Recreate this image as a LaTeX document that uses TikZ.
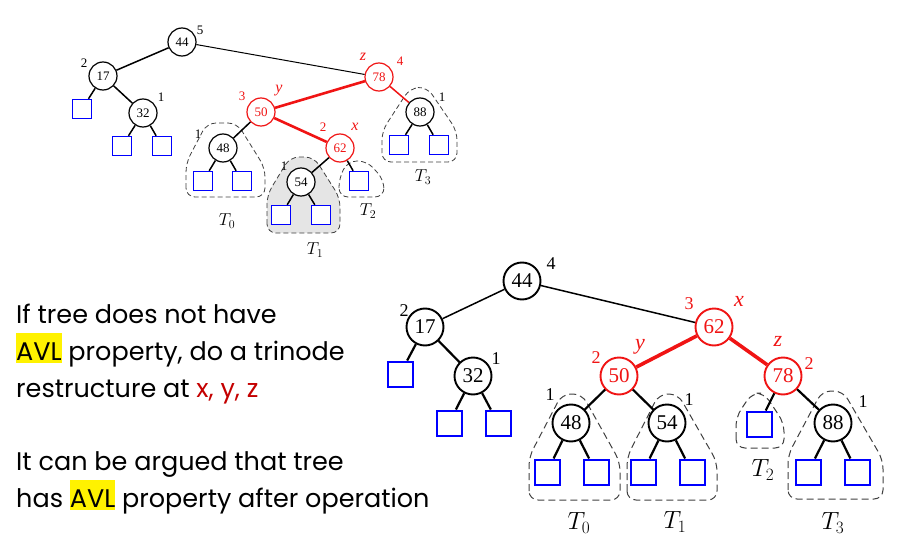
\documentclass[tikz,border=0pt]{standalone}
\usepackage{fontspec}
\setmainfont{Liberation Serif}
\newfontfamily\slidefont{Poppins}
\definecolor{treered}{RGB}{240,20,20}
\definecolor{textred}{RGB}{196,0,0}
\newcommand\hl[1]{{\setlength\fboxsep{0pt}\colorbox{yellow}{\rule[-3pt]{0pt}{30pt}#1}}}

\begin{document}
\begin{tikzpicture}[x=1pt, y=-1pt,
    var/.style={draw, circle, fill=white, minimum size=28, inner sep=0pt, line width=1.2,
      font=\fontsize{13}{13}\selectfont},
    bigvar/.style={var, minimum size=37, line width=1.9, font=\fontsize{21}{21}\selectfont},
    hot/.style={draw=treered, text=treered},
    leaf/.style={draw=blue, fill=white, minimum size=19, inner sep=0pt, line width=1.4},
    bigleaf/.style={leaf, minimum size=25, line width=2},
    edge/.style={line width=1.5},
    thin/.style={line width=1},
    bigedge/.style={line width=2.2},
    redge/.style={treered, line width=2.6},
    bigredge/.style={treered, line width=3.6},
    ht/.style={inner sep=0pt, font=\fontsize{13}{13}\selectfont},
    bight/.style={inner sep=0pt, font=\fontsize{18}{18}\selectfont},
    nm/.style={inner sep=0pt, treered, font=\itshape\fontsize{16}{16}\selectfont},
    bignm/.style={inner sep=0pt, treered, font=\itshape\fontsize{22}{22}\selectfont},
    lbl/.style={inner sep=0pt, font=\fontsize{17}{17}\selectfont},
    biglbl/.style={inner sep=0pt, font=\fontsize{25}{25}\selectfont},
    blob/.style={dash pattern=on 5pt off 3pt, rounded corners=9, line width=0.8, black!75},
    bigblob/.style={blob, dash pattern=on 7pt off 4pt, line width=1},
    txt/.style={inner sep=0pt, anchor=base west, font=\slidefont\fontsize{25.5}{25.5}\selectfont}]

  \useasboundingbox (0,0) rectangle (903,538);

  % subtree outlines, top tree
  \draw[blob] (186,197) -- (186,163) -- (207,123) -- (237,123) -- (265,168) -- (265,197) -- cycle;
  \draw[blob, fill=black!10] (267,233) -- (267,195) -- (290,157) -- (314,157) -- (340,198) -- (340,233) -- cycle;
  \draw[blob] (339,197) -- (339,178) -- (348,161) -- (367,161) -- (384,180) -- (384,197) -- cycle;
  \draw[blob] (382,162) -- (382,131) -- (410,88) -- (427,87) -- (457,131) -- (457,162) -- cycle;

  % subtree outlines, bottom tree
  \draw[bigblob] (529,500) -- (529,457) -- (562,394) -- (582,394) -- (620,462) -- (620,500) -- cycle;
  \draw[bigblob] (627,500) -- (627,457) -- (659,394) -- (678,394) -- (717,462) -- (717,500) -- cycle;
  \draw[bigblob] (736,448) -- (736,417) -- (752,393) -- (764,393) -- (784,423) -- (784,448) -- cycle;
  \draw[bigblob] (788,499) -- (788,455) -- (822,391) -- (843,391) -- (883,460) -- (883,499) -- cycle;

  % top tree
  \node[var] (a44) at (182,42)  {44};
  \node[var] (a17) at (103,76)  {17};
  \node[var] (a32) at (143,113) {32};
  \node[var, hot] (a78) at (379,77)  {78};
  \node[var, hot] (a50) at (261,112) {50};
  \node[var, hot] (a62) at (340,148) {62};
  \node[var] (a48) at (223,148) {48};
  \node[var] (a54) at (301,182) {54};
  \node[var] (a88) at (420,112) {88};

  \node[leaf] (a17l) at (82,109)  {};
  \node[leaf] (a32l) at (122,146) {};
  \node[leaf] (a32r) at (162,146) {};
  \node[leaf] (a48l) at (203,181) {};
  \node[leaf] (a48r) at (242,181) {};
  \node[leaf] (a54l) at (281,215) {};
  \node[leaf] (a54r) at (321,215) {};
  \node[leaf] (a62r) at (359,181) {};
  \node[leaf] (a88l) at (399,145) {};
  \node[leaf] (a88r) at (439,145) {};

  \draw[edge] (a44) -- (a17);
  \draw[thin] (a44) -- (a78);
  \draw[edge] (a17) -- (a17l);
  \draw[edge] (a17) -- (a32);
  \draw[edge] (a32) -- (a32l);
  \draw[edge] (a32) -- (a32r);
  \draw[redge] (a78) -- (a50);
  \draw[edge, treered] (a78) -- (a88);
  \draw[edge] (a50) -- (a48);
  \draw[redge] (a50) -- (a62);
  \draw[edge] (a48) -- (a48l);
  \draw[edge] (a48) -- (a48r);
  \draw[edge] (a62) -- (a54);
  \draw[edge] (a62) -- (a62r);
  \draw[edge] (a54) -- (a54l);
  \draw[edge] (a54) -- (a54r);
  \draw[edge] (a88) -- (a88l);
  \draw[edge] (a88) -- (a88r);

  \node[ht] (a44h) at (200,30)  {5};
  \node[ht] (a17h) at (84,63)   {2};
  \node[ht] (a32h) at (161,97)  {1};
  \node[ht, treered] (a78h) at (400,61)  {4};
  \node[nm] (a78n) at (363,57)  {z};
  \node[ht, treered] (a50h) at (242,96)  {3};
  \node[nm] (a50n) at (279,91)  {y};
  \node[ht, treered] (a62h) at (323,127) {2};
  \node[nm] (a62n) at (355,127) {x};
  \node[ht] (a48h) at (198,134) {1};
  \node[ht] (a54h) at (284,166) {1};
  \node[ht] (a88h) at (442,97)  {1};

  \node[lbl] (at0) at (227,221) {$T_0$};
  \node[lbl] (at1) at (315,250) {$T_1$};
  \node[lbl] (at2) at (368,211) {$T_2$};
  \node[lbl] (at3) at (423,177) {$T_3$};

  % bottom tree
  \node[bigvar] (b44) at (522,281) {44};
  \node[bigvar] (b17) at (425,327) {17};
  \node[bigvar] (b32) at (473,376) {32};
  \node[bigvar, hot] (b62) at (714,327) {62};
  \node[bigvar, hot] (b50) at (619,376) {50};
  \node[bigvar, hot] (b78) at (783,376) {78};
  \node[bigvar] (b48) at (571,423) {48};
  \node[bigvar] (b54) at (667,423) {54};
  \node[bigvar] (b88) at (833,423) {88};

  \node[bigleaf] (b17l) at (400,374) {};
  \node[bigleaf] (b32l) at (449,423) {};
  \node[bigleaf] (b32r) at (498,423) {};
  \node[bigleaf] (b48l) at (547,472) {};
  \node[bigleaf] (b48r) at (596,472) {};
  \node[bigleaf] (b54l) at (643,472) {};
  \node[bigleaf] (b54r) at (692,472) {};
  \node[bigleaf] (b78l) at (759,424) {};
  \node[bigleaf] (b88l) at (808,472) {};
  \node[bigleaf] (b88r) at (857,472) {};

  \draw[edge] (b44) -- (b17);
  \draw[edge] (b44) -- (b62);
  \draw[bigedge] (b17) -- (b17l);
  \draw[bigedge] (b17) -- (b32);
  \draw[bigedge] (b32) -- (b32l);
  \draw[bigedge] (b32) -- (b32r);
  \draw[bigredge] (b62) -- (b50);
  \draw[bigredge] (b62) -- (b78);
  \draw[bigedge] (b50) -- (b48);
  \draw[bigedge] (b50) -- (b54);
  \draw[bigedge] (b78) -- (b78l);
  \draw[bigedge] (b78) -- (b88);
  \draw[bigedge] (b48) -- (b48l);
  \draw[bigedge] (b48) -- (b48r);
  \draw[bigedge] (b54) -- (b54l);
  \draw[bigedge] (b54) -- (b54r);
  \draw[bigedge] (b88) -- (b88l);
  \draw[bigedge] (b88) -- (b88r);

  \node[bight] (b44h) at (551,264) {4};
  \node[bight] (b17h) at (404,311) {2};
  \node[bight] (b32h) at (496,359) {1};
  \node[bight, treered] (b62h) at (689,304) {3};
  \node[bignm] (b62n) at (739,301) {x};
  \node[bight, treered] (b50h) at (596,358) {2};
  \node[bignm] (b50n) at (640,347) {y};
  \node[bight, treered] (b78h) at (809,364) {2};
  \node[bignm] (b78n) at (778,341) {z};
  \node[bight] (b48h) at (550,395) {1};
  \node[bight] (b54h) at (689,400) {1};
  \node[bight] (b88h) at (863,402) {1};

  \node[biglbl] (bt0) at (579,523) {$T_0$};
  \node[biglbl] (bt1) at (675,522) {$T_1$};
  \node[biglbl] (bt2) at (763,470) {$T_2$};
  \node[biglbl] (bt3) at (833,523) {$T_3$};

  % slide text
  \node[txt] (l1) at (16,323) {If tree does not have};
  \node[txt] (l2) at (16,360) {\hl{AVL} property, do a trinode};
  \node[txt] (l3) at (16,397) {restructure at {\color{textred}x, y, z}};
  \node[txt] (l4) at (16,470) {It can be argued that tree};
  \node[txt] (l5) at (16,507) {has \hl{AVL} property after operation};
\end{tikzpicture}
\end{document}
